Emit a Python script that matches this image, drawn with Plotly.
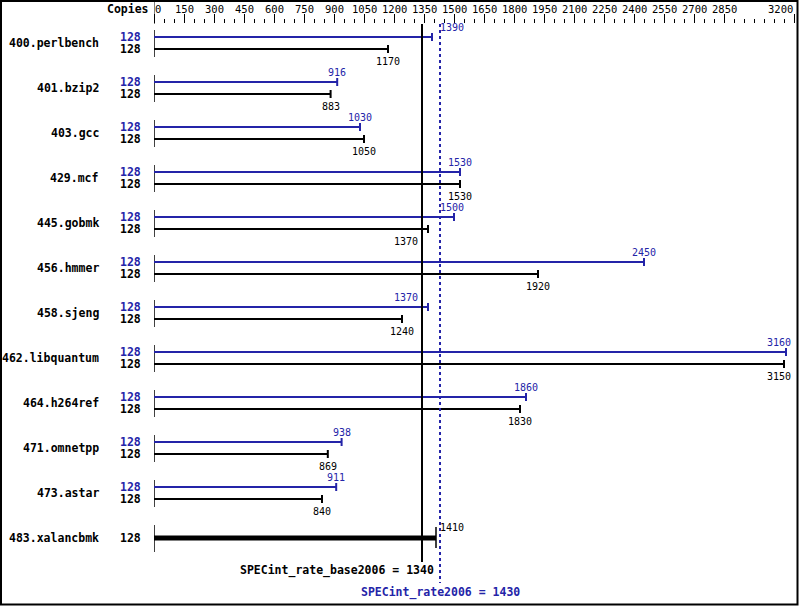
import plotly.graph_objects as go

benchmarks = ["400.perlbench", "401.bzip2", "403.gcc", "429.mcf", "445.gobmk", "456.hmmer",
              "458.sjeng", "462.libquantum", "464.h264ref", "471.omnetpp", "473.astar", "483.xalancbmk"]
copies_base = [128, 128, 128, 128, 128, 128, 128, 128, 128, 128, 128, 128]
copies_peak = [128, 128, 128, 128, 128, 128, 128, 128, 128, 128, 128, None]
base_ratio = [1170, 883, 1050, 1530, 1370, 1920, 1240, 3150, 1830, 869, 840, 1410]
peak_ratio = [1390, 916, 1030, 1530, 1500, 2450, 1370, 3160, 1860, 938, 911, None]
base_mean = 1340
peak_mean = 1430
tick_labels = [0, 150, 300, 450, 600, 750, 900, 1050, 1200, 1350, 1500, 1650, 1800, 1950,
               2100, 2250, 2400, 2550, 2700, 2850, 3200]
x_max = 3200

# label placement tweaks (to avoid overlapping the mean lines / edge)
peak_place = {"400.perlbench": "after_peak", "445.gobmk": "after_peak",
              "458.sjeng": "before_base", "462.libquantum": "edge"}
base_place = {"445.gobmk": "before_base", "462.libquantum": "edge"}

BLUE = "#2424a8"
BLACK = "#000000"
FONT = "DejaVu Sans Mono"

W, H = 799, 606
L, R, T, B = 154, 794, 24, 599
PX = 45.0          # pixels per benchmark group
C0 = 43            # pixel y of first group centre
def u(px):         # pixel offset -> y data units
    return px / PX
y_top = (T - C0) / PX
y_bot = (B - C0) / PX
def ypap(py):      # pixel y -> paper
    return (B - py) / (B - T)
def xpap(px):
    return (px - L) / (R - L)

fig = go.Figure()

def seg_trace(xs, ys, color, width, dash=None):
    fig.add_trace(go.Scatter(x=xs, y=ys, mode="lines", hoverinfo="skip", showlegend=False,
                             line=dict(color=color, width=width, dash=dash)))

bx, by, bcx, bcy = [], [], [], []
px_, py_, pcx, pcy = [], [], [], []
sx, sy = [], []
tx, ty, tcx, tcy = [], [], [], []
ann = []

def tfont(color, size=10, bold=False):
    return dict(family=FONT, size=size, color=color, weight="bold" if bold else "normal")

for i, name in enumerate(benchmarks):
    ann.append(dict(x=xpap(101), xref="paper", y=i, yref="y", text=name, showarrow=False,
                    xanchor="right", yanchor="middle", font=tfont(BLACK, 11.5, True)))
    if peak_ratio[i] is None:
        v = base_ratio[i]
        tx += [0, v, None]; ty += [i, i, None]
        tcx += [v, v, None]; tcy += [i - u(11), i + u(10), None]
        sx += [0, 0, None]; sy += [i - u(13), i + u(14), None]
        ann.append(dict(x=xpap(143), xref="paper", y=i, yref="y", text=str(copies_base[i]),
                        showarrow=False, xanchor="right", yanchor="middle", font=tfont(BLACK, 11.5, True)))
        ann.append(dict(x=peak_mean, y=i - u(11), text=str(v), showarrow=False, xanchor="left",
                        xshift=-2, yanchor="middle", font=tfont(BLACK)))
        continue
    yp = i - u(6)
    yb = i + u(6)
    p = peak_ratio[i]
    b = base_ratio[i]
    px_ += [0, p, None]; py_ += [yp, yp, None]
    pcx += [p, p, None]; pcy += [yp - u(4), yp + u(4), None]
    bx += [0, b, None]; by += [yb, yb, None]
    bcx += [b, b, None]; bcy += [yb - u(4), yb + u(4), None]
    sx += [0, 0, None]; sy += [i - u(13), i + u(14), None]
    ann.append(dict(x=xpap(143), xref="paper", y=yp, yref="y", text=str(copies_peak[i]),
                    showarrow=False, xanchor="right", yanchor="middle", font=tfont(BLUE, 11.5, True)))
    ann.append(dict(x=xpap(143), xref="paper", y=yb, yref="y", text=str(copies_base[i]),
                    showarrow=False, xanchor="right", yanchor="middle", font=tfont(BLACK, 11.5, True)))
    for val, yy, place, col in ((p, yp - u(10), peak_place.get(name), BLUE),
                                (b, yb + u(12), base_place.get(name), BLACK)):
        a = dict(y=yy, text=str(val), showarrow=False, yanchor="middle", font=tfont(col))
        if place == "after_peak":
            a.update(x=peak_mean, xanchor="left", xshift=-2)
        elif place == "before_base":
            a.update(x=base_mean, xanchor="right", xshift=-2)
        elif place == "edge":
            a.update(x=x_max, xanchor="right", xshift=-1)
        else:
            a.update(x=val, xanchor="center")
        ann.append(a)

seg_trace(sx, sy, BLACK, 1.5)
seg_trace(px_, py_, BLUE, 2.2)
seg_trace(pcx, pcy, BLUE, 2)
seg_trace(bx, by, BLACK, 2.2)
seg_trace(bcx, bcy, BLACK, 2)
seg_trace(tx, ty, BLACK, 5)
seg_trace(tcx, tcy, BLACK, 1.5)
# mean lines
seg_trace([base_mean, base_mean], [y_top, u(562 - C0)], BLACK, 2)
seg_trace([peak_mean, peak_mean], [y_top, u(583 - C0)], BLUE, 2, "dot")

ann.append(dict(x=peak_mean, y=u(570 - C0), text=f"SPECint_rate_base2006 = {base_mean}",
                showarrow=False, xanchor="right", xshift=-4, yanchor="middle",
                font=tfont(BLACK, 11.5, True)))
ann.append(dict(x=peak_mean, y=u(592 - C0), text=f"SPECint_rate2006 = {peak_mean}",
                showarrow=False, xanchor="center", yanchor="middle", font=tfont(BLUE, 11.5, True)))
ann.append(dict(x=xpap(151), xref="paper", y=ypap(9), yref="paper", text="Copies",
                showarrow=False, xanchor="right", yanchor="middle", font=tfont(BLACK, 11.5, True)))
# tick labels (drawn as text so they sit where the reference has them)
for t in tick_labels:
    if t == tick_labels[0]:
        anc, sh = "left", -1
    elif t == tick_labels[-1]:
        anc, sh = "right", 1
    else:
        anc, sh = "center", 0
    ann.append(dict(x=t, y=ypap(9), yref="paper", text=str(t), showarrow=False,
                    xanchor=anc, xshift=sh, yanchor="middle", font=tfont(BLACK, 10.5)))

shapes = [
    dict(type="rect", xref="paper", yref="paper", x0=xpap(1), x1=xpap(797.5),
         y0=ypap(1), y1=ypap(604.5), line=dict(color=BLACK, width=2)),
    dict(type="line", xref="x", yref="paper", x0=0, x1=0, y0=ypap(0), y1=ypap(T),
         line=dict(color=BLACK, width=1)),
]

fig.update_layout(
    width=W, height=H,
    margin=dict(l=L, r=W - R, t=T, b=H - B, pad=0, autoexpand=False),
    paper_bgcolor="white", plot_bgcolor="white",
    showlegend=False,
    annotations=ann, shapes=shapes,
    xaxis=dict(range=[0, x_max], side="top", showgrid=False, zeroline=False, showline=False,
               automargin=False, showticklabels=False,
               tickmode="array", tickvals=tick_labels,
               ticks="outside", ticklen=9, tickwidth=1, tickcolor=BLACK,
               minor=dict(tickmode="array", tickvals=list(range(0, x_max + 1, 50)),
                          ticks="outside", ticklen=4, tickwidth=1, tickcolor=BLACK),
               fixedrange=True),
    yaxis=dict(range=[y_bot, y_top], showgrid=False, zeroline=False, showline=False,
               automargin=False, showticklabels=False, ticks="", fixedrange=True),
)

fig.write_html("out.html", config={"displayModeBar": False},
               post_script="document.body.style.margin='0';document.body.style.overflow='hidden';")
